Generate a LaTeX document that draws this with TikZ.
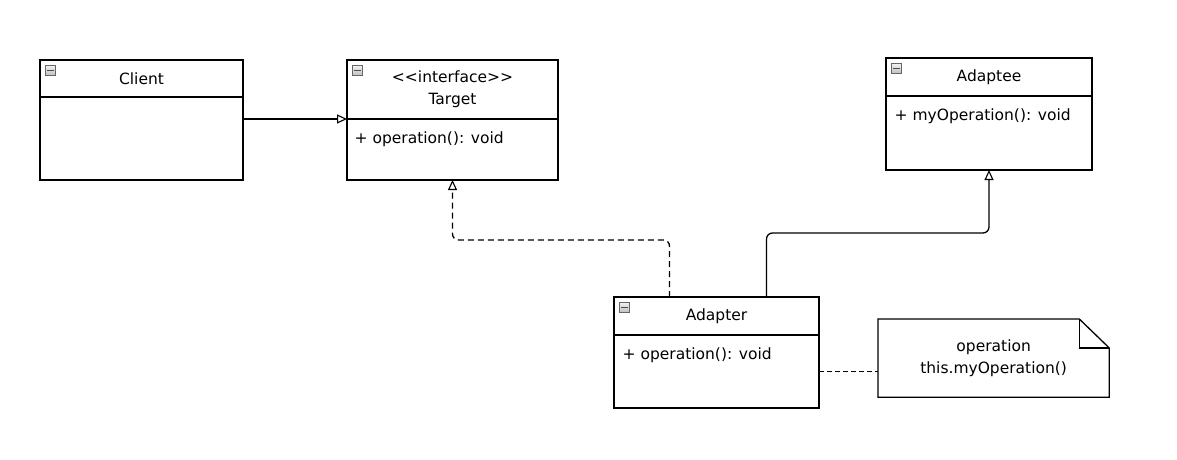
\documentclass[tikz,border=0pt]{standalone}
\usepackage{fontspec}
\setmainfont{DejaVu Sans}
\usetikzlibrary{positioning, calc, arrows.meta}

\begin{document}
\begin{tikzpicture}
    [x=1pt, y=-1pt, line width=1.3pt,
     every node/.style={font=\fontsize{15.5}{22}\selectfont},
     head/.style={draw, outer sep=0pt, inner sep=0pt, align=center, anchor=north west},
     body/.style={draw, outer sep=0pt, inner sep=0pt},
     member/.style={anchor=west, inner sep=4pt},
     collapse/.style={draw=gray!80!black, line width=0.6pt, top color=gray!10, bottom color=gray!50,
       minimum size=10pt, inner sep=0pt, anchor=north west,
       path picture={\draw[black!70, line width=1.2pt] ([xshift=1.5pt]path picture bounding box.west) -- ([xshift=-1.5pt]path picture bounding box.east);}},
     opentip/.style={-{Triangle[open, length=10pt, width=9pt, line width=1.1pt]}},
     assoc/.style={opentip, rounded corners=6pt},
     realize/.style={opentip, dash pattern=on 6pt off 4pt, rounded corners=6pt},
     notelink/.style={dash pattern=on 5pt off 3pt}]
    \useasboundingbox (0,0) rectangle (1177,460);

    \node[head, minimum width=203pt, minimum height=37pt] (clienthead) at (40,60) {Client};
    \node[body, minimum width=203pt, minimum height=83pt, below=0pt of clienthead] (clientbody) {};

    \node[head, minimum width=211pt, minimum height=59pt] (targethead) at (347,60) {{<}{<}interface{>}{>}\\Target};
    \node[body, minimum width=211pt, minimum height=61pt, below=0pt of targethead] (targetbody) {};
    \node[member] (targetop) at ([xshift=3pt, yshift=-20pt]targetbody.north west) {+ operation(): void};

    \node[head, minimum width=206pt, minimum height=38pt] (adapteehead) at (886,58) {Adaptee};
    \node[body, minimum width=206pt, minimum height=74pt, below=0pt of adapteehead] (adapteebody) {};
    \node[member] (adapteeop) at ([xshift=4pt, yshift=-20pt]adapteebody.north west) {+ myOperation(): void};

    \node[head, minimum width=205pt, minimum height=38pt] (adapterhead) at (614,297) {Adapter};
    \node[body, minimum width=205pt, minimum height=73pt, below=0pt of adapterhead] (adapterbody) {};
    \node[member] (adapterop) at ([xshift=4pt, yshift=-20pt]adapterbody.north west) {+ operation(): void};

    \foreach \c in {client, target, adaptee, adapter}
        \node[collapse] (\c icon) at ([xshift=5pt, yshift=-5pt]\c head.north west) {};

    % note with folded corner
    \node[minimum width=230pt, minimum height=77pt, align=center, anchor=north west, inner sep=0pt] (note) at (878,319) {operation\\this.myOperation()};
    \draw ([xshift=-30pt]note.north east) -- (note.north west) -- (note.south west) -- (note.south east) -- ([yshift=-29pt]note.north east) -- cycle;
    \draw ([xshift=-30pt]note.north east) |- ([yshift=-29pt]note.north east);

    \draw[assoc] (targetbody.north west -| clientbody.east) -- (targetbody.north west);
    \draw[realize] ([xshift=-47pt]adapterhead.north) |- ([yshift=-60pt]targetbody.south) -- (targetbody.south);
    \draw[assoc] ([xshift=50pt]adapterhead.north) |- ([yshift=-63pt]adapteebody.south) -- (adapteebody.south);
    \draw[notelink] (adapterbody.east) -- (adapterbody.east -| note.west);
\end{tikzpicture}
\end{document}
